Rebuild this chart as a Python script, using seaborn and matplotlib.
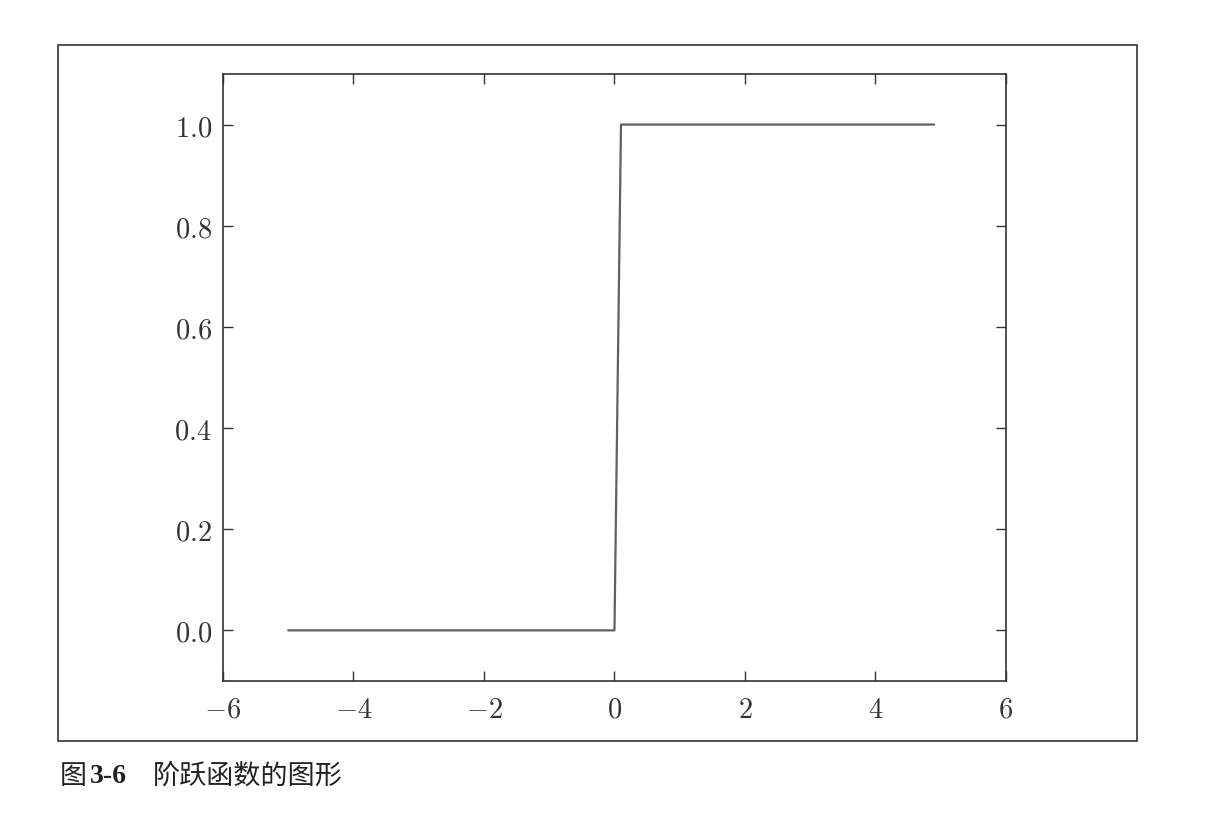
import numpy as np
import pandas as pd
import seaborn as sns
import matplotlib.pyplot as plt
from matplotlib.patches import Rectangle

# pontos da função degrau (x de -5 a 4.9, salto entre 0 e 0.1)
x_vals = [-5.0, 0.0, 0.1, 4.9]
y_vals = [0.0, 0.0, 1.0, 1.0]

xticks = [-6, -4, -2, 0, 2, 4, 6]
yticks = [0.0, 0.2, 0.4, 0.6, 0.8, 1.0]

legenda_fig = '阶跃函数的图形'

df = pd.DataFrame({'x': x_vals, 'y': y_vals})

sns.set_style('ticks')
plt.rcParams['font.family'] = ['Noto Sans CJK SC', 'DejaVu Sans']
plt.rcParams['mathtext.fontset'] = 'cm'

fig = plt.figure(figsize=(12.17, 8.23), dpi=100)
ax = fig.add_axes([0.1832, 0.1726, 0.6434, 0.7375])

sns.lineplot(data=df, x='x', y='y', ax=ax, color='#606060', linewidth=1.6)

ax.set_xlim(-6, 6)
ax.set_ylim(-0.1, 1.1)
ax.set_xticks(xticks)
ax.set_xticklabels(['$%d$' % t for t in xticks])
ax.set_yticks(yticks)
ax.set_yticklabels(['$%.1f$' % t for t in yticks])
ax.set_xlabel('')
ax.set_ylabel('')
ax.tick_params(direction='in', length=7, width=1, colors='#333333', labelsize=20.5,
               top=True, right=True, pad=8)
ax.tick_params(axis='x', pad=10)
for s in ax.spines.values():
    s.set_visible(True)
    s.set_color('#333333')
    s.set_linewidth(1.2)

# moldura externa
fig.patches.append(Rectangle((0.0477, 0.0996), 0.8866, 0.8457, transform=fig.transFigure,
                             fill=False, edgecolor='#333333', linewidth=1.2))

# legenda da figura
fig.text(0.049, 0.0571, '图', fontsize=19.5, va='center', color='#222222', fontweight='medium')
fig.text(0.0735, 0.0571, '3-6', fontsize=20, va='center', color='#222222',
         family='Liberation Serif', fontweight='bold')
fig.text(0.1257, 0.0571, legenda_fig, fontsize=19.5, va='center', color='#222222',
         fontweight='medium')

plt.savefig('out.png', dpi=100)
